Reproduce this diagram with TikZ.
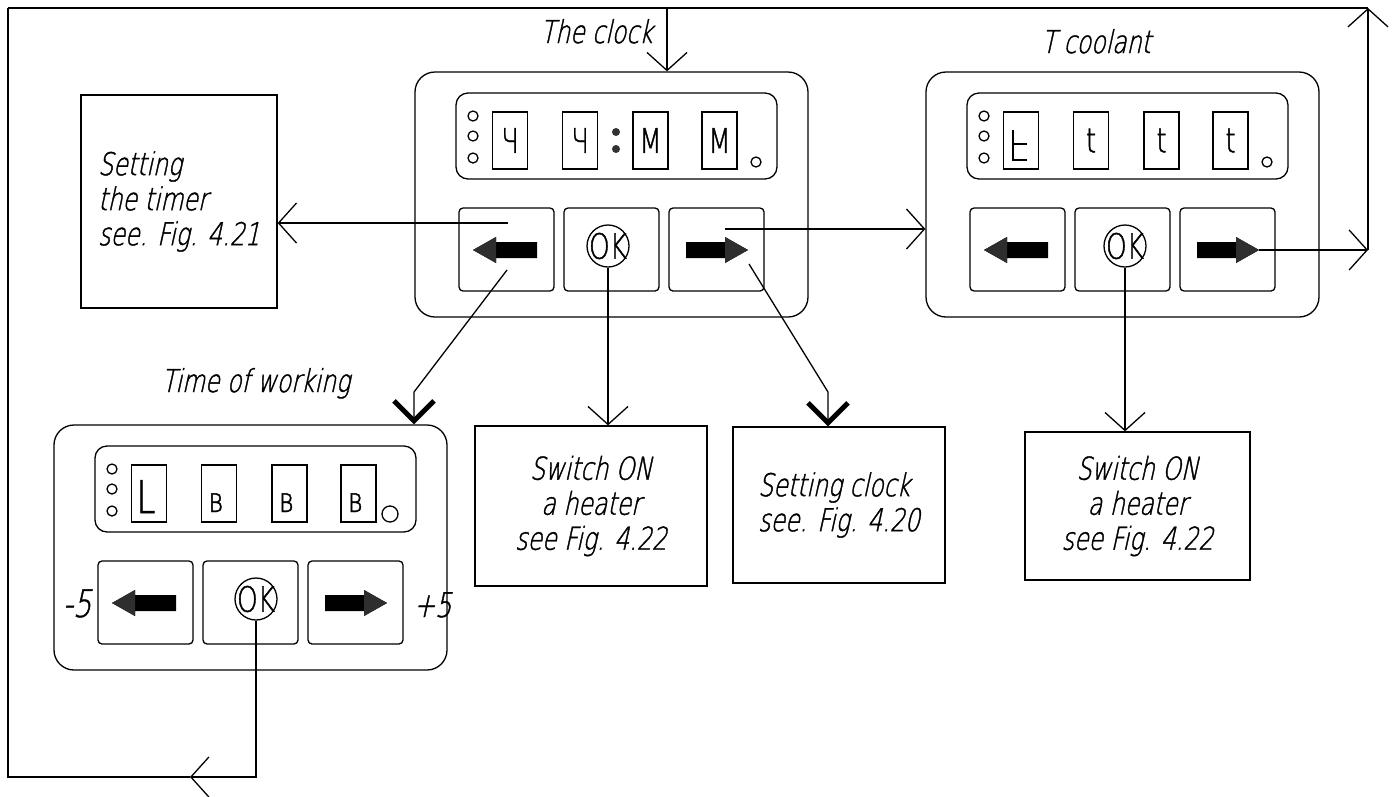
\documentclass[tikz,border=0pt]{standalone}
\usepackage{fontspec}
\usetikzlibrary{arrows.meta,calc}
\newfontfamily\gost{DejaVu Sans ExtraLight}[FakeStretch=0.75,FakeSlant=0.22,FakeBold=1.2]
\newfontfamily\gostup{DejaVu Sans ExtraLight}[FakeStretch=0.75,FakeBold=1.2]
\tikzset{
  lbl/.style={font=\gost\fontsize{31.5}{35}\selectfont, inner sep=0pt},
  panel/.style={draw, rounded corners=20pt, minimum width=393pt, minimum height=245pt, inner sep=0pt},
  disp/.style={draw, rounded corners=12pt, minimum width=321pt, minimum height=86pt, inner sep=0pt},
  digit/.style={draw, minimum width=35pt, minimum height=57pt, inner sep=0pt},
  led/.style={draw, circle, minimum size=10pt, inner sep=0pt},
  btn/.style={draw, rounded corners=4pt, minimum width=95pt, minimum height=83pt, inner sep=0pt},
  okc/.style={draw, circle, minimum size=42pt, inner sep=-1.5pt, font=\gostup\fontsize{35}{35}\selectfont},
  glyph/.style={font=\gostup\fontsize{34}{34}\selectfont, inner sep=0pt},
  tbox/.style={draw, inner sep=0pt, font=\gost\fontsize{31.5}{35}\selectfont},
  oarr/.style={-{Straight Barb[length=18pt,width=40pt]}},
  harr/.style={-{Straight Barb[length=20pt,width=40pt,line width=5pt]}},
}
\newcommand\mkpanel[4]{%
 \begin{scope}[shift={(#2,#3)}]
  \node[panel] (#1) at (196.5,122.5) {};
  \node[disp] (#1disp) at (201.5,64) {};
  \node[led] (#1l1) at (58,44) {};
  \node[led] (#1l2) at (58,64) {};
  \node[led] (#1l3) at (58,86) {};
  \node[digit] (#1d1) at (95,68.5) {};
  \node[digit] (#1d2) at (165,68.5) {};
  \node[digit] (#1d3) at (235.5,68.5) {};
  \node[digit] (#1d4) at (304.5,68.5) {};
  \node[btn] (#1b1) at (91.5,177.5) {};
  \node[btn] (#1b2) at (196.5,177.5) {};
  \node[btn] (#1b3) at (301.5,177.5) {};
  \node[okc] (#1ok) at (#4,174) {OK};
  \fill (58,178) -- (81,165) -- (81,170) -- (122,170) -- (122,186) -- (81,186) -- (81,191) -- cycle;
  \fill[black!82] (58,178) -- (81,165) -- (81,191) -- cycle;
  \fill (333,178) -- (310,165) -- (310,170) -- (271,170) -- (271,186) -- (310,186) -- (310,191) -- cycle;
  \fill[black!82] (333,178) -- (310,165) -- (310,191) -- cycle;
  \coordinate (#1ltip) at (58,178);
  \coordinate (#1rtip) at (333,178);
 \end{scope}}
\begin{document}
\begin{tikzpicture}[x=1pt,y=-1pt,line width=1.3pt]
\fill[white] (0,0) rectangle (1392,796);
\useasboundingbox (0,0) rectangle (1392,796);

% panels
\mkpanel{clock}{415}{72}{193}
\mkpanel{cool}{926}{72}{199}
\mkpanel{work}{54}{425}{202}

% clock extras
\fill[black!80] (616,132) circle (4pt);
\fill[black!80] (616,149) circle (4pt);
\node[led] (clockl4) at (756,162) {};
\node[glyph] (clockc1) at (clockd1) {Ч};
\node[glyph] (clockc2) at (clockd2) {Ч};
\node[glyph] (clockc3) at (clockd3) {М};
\node[glyph] (clockc4) at (clockd4) {М};

% coolant extras
\node[led] (cooll4) at (1267,162) {};
\draw[line width=1.2pt] (1013,130) -- (1013,160) -- (1027,160) (1013,144) -- (1027,144);
\node[glyph] (coolc2) at (coold2) {t};
\node[glyph] (coolc3) at (coold3) {t};
\node[glyph] (coolc4) at (coold4) {t};

% working extras
\node[led, minimum size=16pt] (workl4) at (390,514) {};
\node[glyph, font=\gostup\fontsize{45}{45}\selectfont, anchor=base] (workc1) at (146,513) {L};
\node[glyph, anchor=base] (workc2) at (216,512) {в};
\node[glyph, anchor=base] (workc3) at (286.5,512) {в};
\node[glyph, anchor=base] (workc4) at (355.5,512) {в};
\node[font=\gost\fontsize{38}{38}\selectfont, anchor=base west, inner sep=0pt] (lm5) at (62,617) {-5};
\node[font=\gost\fontsize{34}{34}\selectfont, anchor=base west, inner sep=0pt] (lp5) at (413,617) {+5};

% labels
\node[lbl, anchor=base west] (lclock) at (540,43) {The clock};
\node[lbl, anchor=base west] (lcool) at (1041,53) {T coolant};
\node[lbl, anchor=base west] (lwork) at (161,392) {Time of working};

% text boxes
\node[tbox, minimum width=196pt, minimum height=213pt, align=left] (timer) at (179,201.5) {Setting\\the timer\\see. Fig. 4.21};
\node[tbox, minimum width=232pt, minimum height=160pt, align=center] (sw1) at (591,506) {Switch ON\\a heater\\see Fig. 4.22};
\node[tbox, minimum width=212pt, minimum height=156pt, align=left] (setclk) at (839,505) {Setting clock\\see. Fig. 4.20};
\node[tbox, minimum width=225pt, minimum height=148pt, align=center] (sw2) at (1137.5,506) {Switch ON\\a heater\\see Fig. 4.22};

% connectors
\coordinate (c1) at ($(clockb1.center)+(1.5,-26.5)$);
\draw[oarr] (c1) -- (c1 -| timer.east);
\coordinate (c2) at ($(clockb1.center)+(0.5,20.5)$);
\coordinate (k1) at (414,392);
\draw[harr] (c2) -- (k1) -- (k1 |- work.north);
\draw[oarr] (clockok.south) -- (clockok.south |- sw1.north);
\coordinate (c3) at ($(clockb3.center)+(32.5,14.5)$);
\coordinate (k2) at (828,392);
\draw[harr] (c3) -- (k2) -- (k2 |- setclk.north);
\coordinate (c4) at ($(clockb3.center)+(8.5,-20.5)$);
\draw[oarr] (c4) -- (c4 -| cool.west);
\draw[oarr] (coolok.south) -- (coolok.south |- sw2.north);
\coordinate (cr1) at (1368,250);
\coordinate (ctr) at (1368,8);
\coordinate (ctl) at (8,8);
\coordinate (ct) at (667,8);
\coordinate (ma) at (190,777);
\coordinate (cbl) at (8,777);
\draw[oarr] (coolrtip) -- (cr1);
\draw[oarr] (cr1) -- (ctr);
\draw (ctl) -- (ctr);
\draw[oarr] (ct) -- (ct |- clock.north);
\draw[oarr] (workok.south) |- (ma);
\draw (ma) -- (cbl) -- (ctl);
\end{tikzpicture}
\end{document}
